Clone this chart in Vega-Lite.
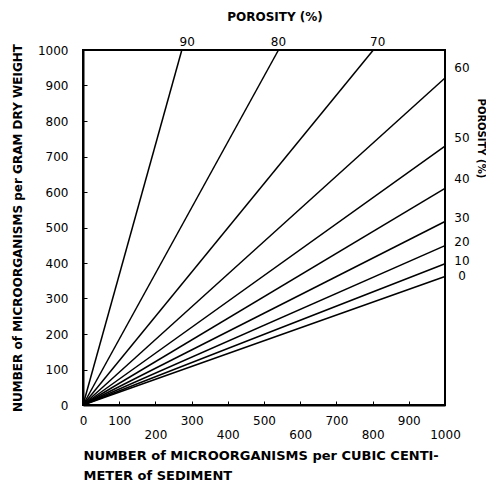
{
  "$schema": "https://vega.github.io/schema/vega-lite/v6.json",
  "width": 362,
  "height": 355,
  "autosize": "none",
  "padding": {"left": 83, "top": 50, "right": 41, "bottom": 76},
  "background": "white",
  "config": {
    "font": "DejaVu Sans",
    "view": {"stroke": "black", "strokeWidth": 2},
    "axis": {"grid": false, "domainColor": "black", "domainWidth": 2, "tickColor": "black", "labelColor": "black", "titleColor": "black", "labelFont": "DejaVu Sans", "titleFont": "DejaVu Sans"}
  },
  "title": {"text": "POROSITY   (%)", "fontSize": 12, "fontWeight": "bold", "font": "DejaVu Sans", "color": "black", "anchor": "middle", "dx": 11, "offset": 12},
  "datasets": {
    "lines": [
      {"porosity": "0", "x": 0, "y": 0}, {"porosity": "0", "x": 1000, "y": 362},
      {"porosity": "10", "x": 0, "y": 0}, {"porosity": "10", "x": 1000, "y": 398},
      {"porosity": "20", "x": 0, "y": 0}, {"porosity": "20", "x": 1000, "y": 449},
      {"porosity": "30", "x": 0, "y": 0}, {"porosity": "30", "x": 1000, "y": 517},
      {"porosity": "40", "x": 0, "y": 0}, {"porosity": "40", "x": 1000, "y": 610},
      {"porosity": "50", "x": 0, "y": 0}, {"porosity": "50", "x": 1000, "y": 729},
      {"porosity": "60", "x": 0, "y": 0}, {"porosity": "60", "x": 1000, "y": 921},
      {"porosity": "70", "x": 0, "y": 0}, {"porosity": "70", "x": 802, "y": 1000},
      {"porosity": "80", "x": 0, "y": 0}, {"porosity": "80", "x": 540, "y": 1000},
      {"porosity": "90", "x": 0, "y": 0}, {"porosity": "90", "x": 273, "y": 1000}
    ],
    "toplabels": [
      {"label": "90", "x": 288, "y": 1000},
      {"label": "80", "x": 540, "y": 1000},
      {"label": "70", "x": 814, "y": 1000}
    ],
    "rightlabels": [
      {"label": "60", "x": 1000, "y": 949},
      {"label": "50", "x": 1000, "y": 751},
      {"label": "40", "x": 1000, "y": 638},
      {"label": "30", "x": 1000, "y": 528},
      {"label": "20", "x": 1000, "y": 460},
      {"label": "10", "x": 1000, "y": 407},
      {"label": "0", "x": 1000, "y": 362}
    ],
    "righttitle": [
      {"label": "POROSITY (%)", "x": 1000, "y": 751}
    ]
  },
  "encoding": {
    "x": {
      "field": "x", "type": "quantitative",
      "scale": {"domain": [0, 1000], "nice": false},
      "axis": {
        "values": [0, 100, 200, 300, 400, 500, 600, 700, 800, 900, 1000],
        "format": "d",
        "tickSize": -4,
        "labelFontSize": 12,
        "labelBaseline": "middle",
        "labelPadding": {"condition": {"test": "datum.value % 200 == 100 || datum.value == 0", "value": 19}, "value": 33},
        "labelFlush": false,
        "labelOverlap": false,
        "labelSeparation": 0,
        "title": ["NUMBER of MICROORGANISMS per CUBIC CENTI-", "METER of SEDIMENT"],
        "titleFontSize": 13,
        "titleFontWeight": "bold",
        "titleAnchor": "start",
        "titleAlign": "left",
        "titleBaseline": "middle",
        "titleLineHeight": 20,
        "titleX": 0,
        "titleY": 50
      }
    },
    "y": {
      "field": "y", "type": "quantitative",
      "scale": {"domain": [0, 1000], "nice": false},
      "axis": {
        "values": [0, 100, 200, 300, 400, 500, 600, 700, 800, 900, 1000],
        "format": "d",
        "tickSize": -4,
        "labelFontSize": 12,
        "labelPadding": 19,
        "labelFlush": false,
        "labelOverlap": false,
        "labelSeparation": 0,
        "title": "NUMBER of MICROORGANISMS per GRAM DRY WEIGHT",
        "titleFontSize": 12,
        "titleFontWeight": "bold",
        "titleX": -66,
        "titleBaseline": "middle"
      }
    }
  },
  "layer": [
    {
      "data": {"name": "lines"},
      "mark": {"type": "line", "color": "black", "strokeWidth": 1.5},
      "encoding": {
        "detail": {"field": "porosity", "type": "nominal"}
      }
    },
    {
      "data": {"name": "toplabels"},
      "mark": {"type": "text", "fontSize": 12, "color": "black", "dy": -8, "baseline": "middle", "align": "center"},
      "encoding": {
        "text": {"field": "label"}
      }
    },
    {
      "data": {"name": "rightlabels"},
      "mark": {"type": "text", "fontSize": 12, "color": "black", "dx": 17, "baseline": "middle", "align": "center"},
      "encoding": {
        "text": {"field": "label"}
      }
    },
    {
      "data": {"name": "righttitle"},
      "mark": {"type": "text", "fontSize": 10, "fontWeight": "bold", "color": "black", "angle": 90, "dy": -36, "baseline": "middle", "align": "center"},
      "encoding": {
        "text": {"field": "label"}
      }
    }
  ]
}
